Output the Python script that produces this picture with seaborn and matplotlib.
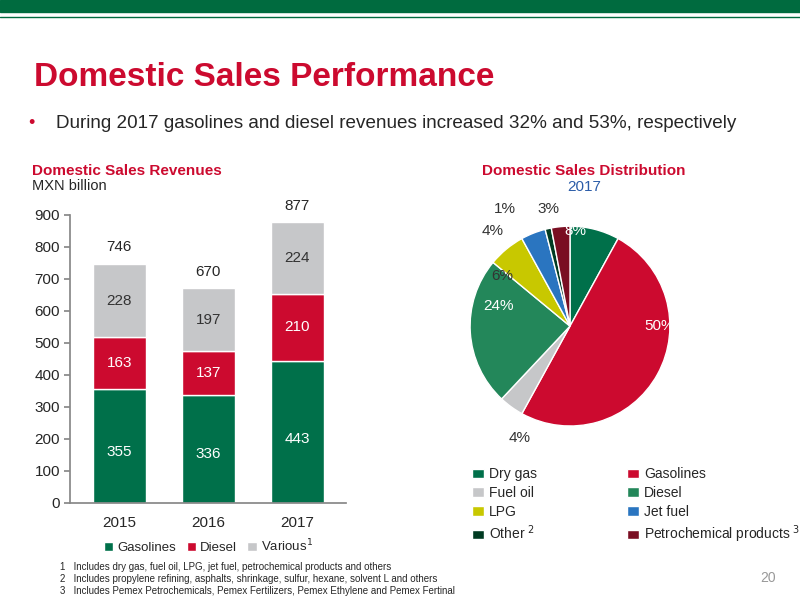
import matplotlib
matplotlib.use("Agg")
import matplotlib.pyplot as plt
import seaborn as sns
import pandas as pd
import numpy as np

years = ["2015", "2016", "2017"]
gasolines = [355, 336, 443]
diesel = [163, 137, 210]
various = [228, 197, 224]
totals = [746, 670, 877]

pie_labels = ["Dry gas", "Gasolines", "Fuel oil", "Diesel", "LPG", "Jet fuel", "Other", "Petrochemical products"]
pie_values = [8, 50, 4, 24, 6, 4, 1, 3]
pie_colors = ["#00704a", "#cc0a2f", "#c6c7c9", "#23875a", "#c8c800", "#2a75c0", "#003b22", "#7a0e22"]

sns.set_theme(style="white")
plt.rcParams['font.family'] = ['Liberation Sans', 'DejaVu Sans']

fig = plt.figure(figsize=(8, 6), dpi=100)
fig.patches.append(plt.Rectangle((0, 0.98), 1, 0.02, transform=fig.transFigure, color="#006b3f"))
fig.add_artist(plt.Line2D([0, 1], [0.972, 0.972], color="#006b3f", lw=1))
fig.text(0.043, 0.87, "Domestic Sales Performance", color="#cc0a2f", fontsize=24, fontweight="bold", va="center")
fig.text(0.035, 0.795, "•", color="#cc0a2f", fontsize=13, va="center")
fig.text(0.07, 0.795, "During 2017 gasolines and diesel revenues increased 32% and 53%, respectively", fontsize=13.6, va="center")
fig.text(0.04, 0.715, "Domestic Sales Revenues", color="#cc0a2f", fontsize=11, fontweight="bold", va="center")
fig.text(0.04, 0.69, "MXN billion", fontsize=10.5, va="center")

ax = fig.add_axes([0.088, 0.162, 0.345, 0.48])
df = pd.DataFrame({"year": years, "g": gasolines, "d": diesel, "v": various})
b1 = [g + d for g, d in zip(gasolines, diesel)]
sns.barplot(data=df, x="year", y="g", color="#00704a", ax=ax, width=0.6, saturation=1, label="Gasolines")
ax.bar(range(3), diesel, bottom=gasolines, color="#cc0a2f", width=0.6, label="Diesel")
ax.bar(range(3), various, bottom=b1, color="#c6c7c9", width=0.6, label="Various")
for i in range(3):
    ax.text(i, gasolines[i] * 0.45, str(gasolines[i]), color="white", ha="center", va="center", fontsize=11)
    ax.text(i, gasolines[i] + diesel[i] * 0.5, str(diesel[i]), color="white", ha="center", va="center", fontsize=11)
    ax.text(i, b1[i] + various[i] * 0.5, str(various[i]), color="#333333", ha="center", va="center", fontsize=11)
    ax.text(i, totals[i] + 30, str(totals[i]), ha="center", va="bottom", fontsize=11)
ax.set_ylim(0, 900)
ax.set_yticks(range(0, 901, 100))
ax.set_xlim(-0.55, 2.55)
ax.set_xlabel(""); ax.set_ylabel("")
for s in ["top", "right"]:
    ax.spines[s].set_visible(False)
ax.spines["left"].set_color("#888888"); ax.spines["bottom"].set_color("#888888")
ax.tick_params(axis="y", left=True, length=4, color="#888888", labelsize=11)
ax.tick_params(axis="x", labelsize=11)
h, l = ax.get_legend_handles_labels()
ax.legend(h, ["Gasolines", "Diesel", "Various$^1$"], loc="upper center", bbox_to_anchor=(0.5, -0.08), ncol=3,
          frameon=False, fontsize=9.5, handlelength=0.7, handletextpad=0.3, columnspacing=0.8)

fig.text(0.73, 0.715, "Domestic Sales Distribution", color="#cc0a2f", fontsize=11, fontweight="bold", ha="center", va="center")
fig.text(0.73, 0.688, "2017", color="#2b5ca8", fontsize=11, ha="center", va="center")
pax = fig.add_axes([0.5875, 0.29, 0.25, 0.333])
wedges, _ = pax.pie(pie_values, colors=pie_colors, startangle=90, counterclock=False,
                    wedgeprops=dict(edgecolor="white", linewidth=1))
pax.set_xlim(-1, 1); pax.set_ylim(-1, 1)
label_pos = {0: (0.05, 0.95), 1: (0.9, 0.0), 2: (-0.5, -1.12), 3: (-0.72, 0.2), 4: (-0.68, 0.5),
             5: (-0.77, 0.95), 6: (-0.65, 1.17), 7: (-0.22, 1.17)}
for i, (w, v) in enumerate(zip(wedges, pie_values)):
    ang = np.deg2rad((w.theta1 + w.theta2) / 2)
    col = "white" if i in (0, 1, 3) else "#333333"
    x, y = label_pos[i]
    pax.text(x, y, f"{v}%", ha="center", va="center", fontsize=11, color=col)
pax.set_aspect("equal")
pax.axis("off")

lab = ["Dry gas", "Gasolines", "Fuel oil", "Diesel", "LPG", "Jet fuel", "Other $^2$", "Petrochemical products $^3$"]
order = [0, 2, 4, 6, 1, 3, 5, 7]
fig.legend([wedges[i] for i in order], [lab[i] for i in order], loc="upper left", bbox_to_anchor=(0.575, 0.242),
           ncol=2, frameon=False, fontsize=10, handlelength=0.8, handletextpad=0.4, columnspacing=6.5, labelspacing=0.35)

fig.text(0.075, 0.05, "1   Includes dry gas, fuel oil, LPG, jet fuel, petrochemical products and others", fontsize=7)
fig.text(0.075, 0.03, "2   Includes propylene refining, asphalts, shrinkage, sulfur, hexane, solvent L and others", fontsize=7)
fig.text(0.075, 0.01, "3   Includes Pemex Petrochemicals, Pemex Fertilizers, Pemex Ethylene and Pemex Fertinal", fontsize=7)
fig.text(0.97, 0.03, "20", color="#999999", fontsize=10, ha="right")
fig.savefig("out.png", dpi=100)
